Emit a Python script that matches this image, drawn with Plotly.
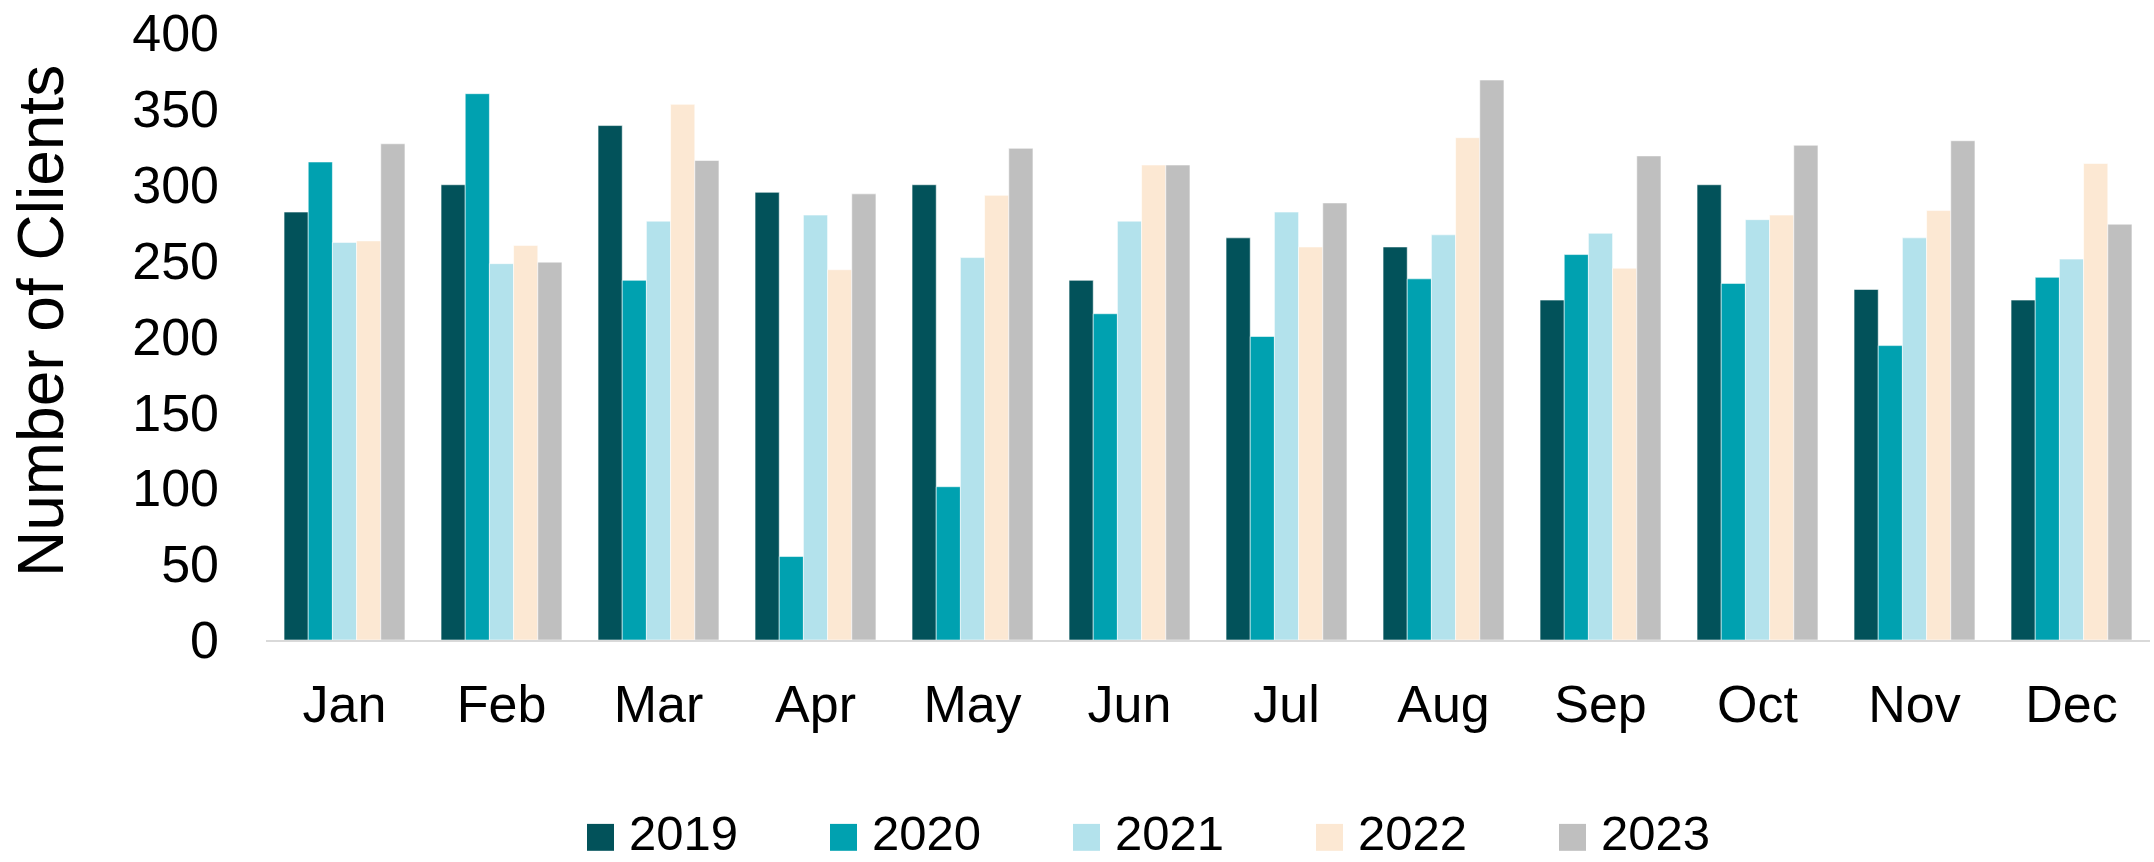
import plotly.graph_objects as go

months = ["Jan", "Feb", "Mar", "Apr", "May", "Jun", "Jul", "Aug", "Sep", "Oct", "Nov", "Dec"]
years = ["2019", "2020", "2021", "2022", "2023"]

clients_2019 = [282, 300, 339, 295, 300, 237, 265, 259, 224, 300, 231, 224]
clients_2020 = [315, 360, 237, 55, 101, 215, 200, 238, 254, 235, 194, 239]
clients_2021 = [262, 248, 276, 280, 252, 276, 282, 267, 268, 277, 265, 251]
clients_2022 = [263, 260, 353, 244, 293, 313, 259, 331, 245, 280, 283, 314]
clients_2023 = [327, 249, 316, 294, 324, 313, 288, 369, 319, 326, 329, 274]

series = [clients_2019, clients_2020, clients_2021, clients_2022, clients_2023]
colors = ["#02525A", "#00A1B0", "#B3E2EC", "#FCE8D3", "#BFBFBF"]

y_ticks = [0, 50, 100, 150, 200, 250, 300, 350, 400]

FONT = "Liberation Sans, Arial, sans-serif"

W, H = 2154, 862
L, R, T, B = 266, 4, 31, 222
plot_w = W - L - R
plot_h = H - T - B

fig = go.Figure()
for name, vals, col in zip(years, series, colors):
    fig.add_trace(go.Bar(
        x=months, y=vals, name=name,
        marker=dict(color=col, line=dict(color="rgba(255,255,255,0.55)", width=1)),
        showlegend=False,
    ))

# Legend drawn as squares + labels below the plot
leg_x0 = 587
leg_step = 243
leg_sq = 27
leg_cy = 838
leg_text_cy = 834
for i, (name, col) in enumerate(zip(years, colors)):
    x0 = leg_x0 + i * leg_step
    fig.add_shape(
        type="rect", xref="paper", yref="paper",
        x0=(x0 - L) / plot_w, x1=(x0 + leg_sq - L) / plot_w,
        y0=(T + plot_h - (leg_cy + leg_sq / 2)) / plot_h,
        y1=(T + plot_h - (leg_cy - leg_sq / 2)) / plot_h,
        fillcolor=col, line=dict(width=0),
    )
    fig.add_annotation(
        xref="paper", yref="paper",
        x=(x0 + leg_sq + 14 - L) / plot_w,
        y=(T + plot_h - leg_text_cy) / plot_h,
        text=name, showarrow=False, xanchor="left", yanchor="middle",
        borderpad=0,
        font=dict(family=FONT, size=49, color="#000000"),
    )

# Y axis title
fig.add_annotation(
    xref="paper", yref="paper",
    x=(41 - L) / plot_w, y=(T + plot_h - 320) / plot_h,
    text="Number of Clients", textangle=-90, showarrow=False,
    xanchor="center", yanchor="middle",
    font=dict(family=FONT, size=64, color="#000000"),
)

fig.update_layout(
    width=W, height=H,
    margin=dict(l=L, r=R, t=T, b=B, pad=0),
    paper_bgcolor="white", plot_bgcolor="white",
    barmode="group", bargap=0.23, bargroupgap=0,
    font=dict(family=FONT, size=52, color="#000000"),
    xaxis=dict(
        showgrid=False, showline=True, linecolor="#D9D9D9", linewidth=2,
        ticks="", tickfont=dict(size=52), ticklabelstandoff=18,
    ),
    yaxis=dict(
        range=[0, 400], tickvals=y_ticks, showgrid=False, showline=False,
        zeroline=False, ticks="", tickfont=dict(size=52), ticklabelstandoff=46,
    ),
)

fig.write_html("out.html")
